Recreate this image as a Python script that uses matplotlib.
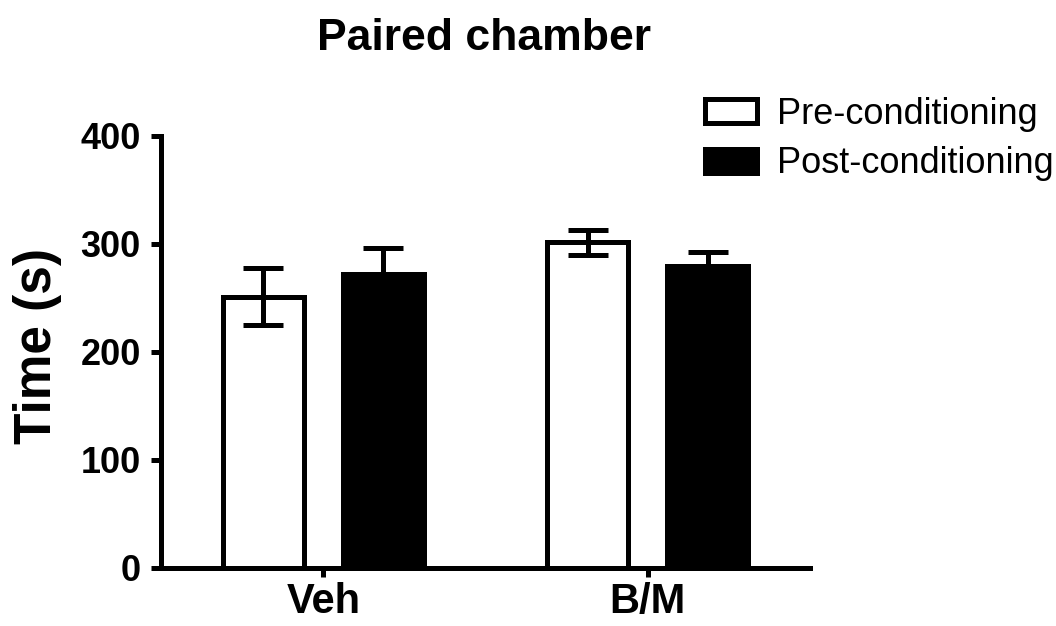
import matplotlib
matplotlib.use('Agg')
import matplotlib.pyplot as plt
import numpy as np

plt.rcParams['font.family'] = ['Liberation Sans', 'DejaVu Sans']

groups = ['Veh', 'B/M']
series = ['Pre-conditioning', 'Post-conditioning']
pre_mean = [251, 301.5]
pre_err = [26.5, 11.6]
post_mean = [272, 279.5]
post_err = [24, 13]

fig = plt.figure(figsize=(10.56, 6.26), dpi=100)
ax = fig.add_axes([0.1525, 0.0931, 0.6146, 0.6901])

x = np.array([1.0, 3.0])
off = 0.37
w = 0.5
lw = 3.6

ax.bar(x - off, pre_mean, w, color='white', edgecolor='black', linewidth=lw,
       label=series[0], zorder=2)
ax.bar(x + off, post_mean, w, color='black', edgecolor='black', linewidth=lw,
       label=series[1], zorder=2)
# capsize is half the cap width in matplotlib
ax.errorbar(x - off, pre_mean, yerr=pre_err, fmt='none', ecolor='black',
            elinewidth=lw, capsize=14.5, capthick=lw, zorder=3)
ax.errorbar(x + off, post_mean, yerr=post_err, fmt='none', ecolor='black',
            elinewidth=lw, capsize=14.5, capthick=lw, zorder=3)

ax.set_xlim(0, 4)
ax.set_ylim(0, 400)
ax.set_yticks([0, 100, 200, 300, 400])
ax.set_xticks(x)
ax.set_xticklabels(groups, fontsize=30, fontweight='bold')
for t in ax.get_yticklabels():
    t.set_fontsize(26)
    t.set_fontweight('bold')

for s in ['top', 'right']:
    ax.spines[s].set_visible(False)
for s in ['left', 'bottom']:
    ax.spines[s].set_linewidth(lw)
ax.tick_params(axis='y', length=7.5, width=lw, pad=7)
ax.tick_params(axis='x', length=6.5, width=lw, pad=4)

ax.set_ylabel('Time (s)', fontsize=37, fontweight='bold')
ax.yaxis.set_label_coords(-0.153, 0.513)

fig.text(0.458, 1 - 50 / 626, 'Paired chamber', fontsize=32, fontweight='bold',
         ha='center', va='baseline')

ax.legend(loc='upper left', bbox_to_anchor=(0.6676, 0.845),
          bbox_transform=fig.transFigure, frameon=False, fontsize=26,
          handlelength=1.45, handleheight=0.64, handletextpad=0.55,
          labelspacing=0.4, borderaxespad=0, borderpad=0)

fig.savefig('out.png', dpi=100)
